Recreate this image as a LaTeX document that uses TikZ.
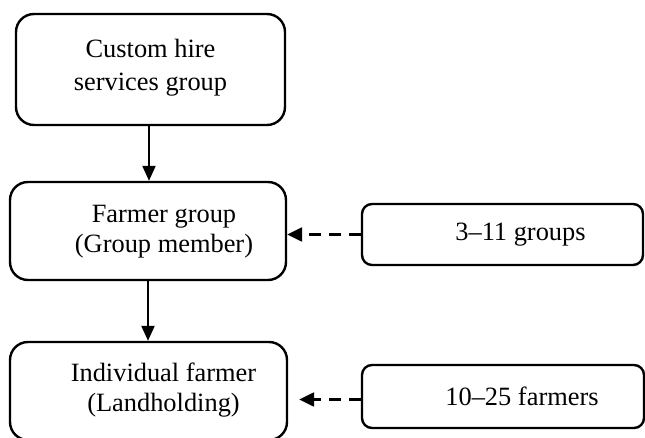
\documentclass[tikz,border=0pt]{standalone}
\usepackage{fontspec}
\setmainfont{Liberation Serif}
\usetikzlibrary{arrows.meta}
\tikzset{
    bigbox/.style={draw, line width=2.4pt, rounded corners=18pt, inner sep=0pt},
    tagbox/.style={draw, line width=2.4pt, rounded corners=10pt, inner sep=0pt},
    txt/.style={align=center, font=\fontsize{26.4}{30}\selectfont, inner sep=0pt},
    dashlink/.style={->, line width=2.4pt, dash pattern=on 12pt off 8pt, >={Triangle[length=15pt,width=14pt]}}
}
\begin{document}
\begin{tikzpicture}[>={Triangle[length=15pt,width=13pt]}, x=1pt, y=1pt]
\useasboundingbox (0,0) rectangle (645,-438);
\clip (0,0) rectangle (645,-438);
% main column
\node[bigbox, minimum width=269pt, minimum height=111pt](hire) at (150.5,-69.5){};
\node[bigbox, minimum width=276pt, minimum height=98pt](fgroup) at (148,-231){};
\node[bigbox, minimum width=277pt, minimum height=98pt](indiv) at (148.5,-391){};
\node[txt, font=\fontsize{26.4}{33}\selectfont](hiretxt) at ([yshift=2pt]hire.center){Custom hire\\services group};
\node[txt](fgtxt) at ([xshift=16pt,yshift=-1pt]fgroup.center){Farmer group\\(Group member)};
\node[txt](indtxt) at ([xshift=15pt,yshift=1pt]indiv.center){Individual farmer\\(Landholding)};
% counts
\node[tagbox, minimum width=281pt, minimum height=61pt](groups) at (502.5,-234.5){};
\node[tagbox, minimum width=282pt, minimum height=63pt](farmers) at (503,-396.5){};
\node[txt](grtxt) at ([xshift=18pt]groups.center){3–11 groups};
\node[txt](fatxt) at ([xshift=19pt]farmers.center){10–25 farmers};
% links
\draw[->, line width=2.2pt](hire.south -| 149,0)--(fgroup.north -| 149,0);
\draw[->, line width=2.2pt](fgroup.south -| 148,0)--(indiv.north -| 148,0);
\draw[dashlink](groups.west)--(groups.west -| fgroup.east);
\draw[dashlink, shorten >=11pt]([yshift=-3pt]farmers.west)--([yshift=-3pt]farmers.west -| indiv.east);
\end{tikzpicture}
\end{document}
